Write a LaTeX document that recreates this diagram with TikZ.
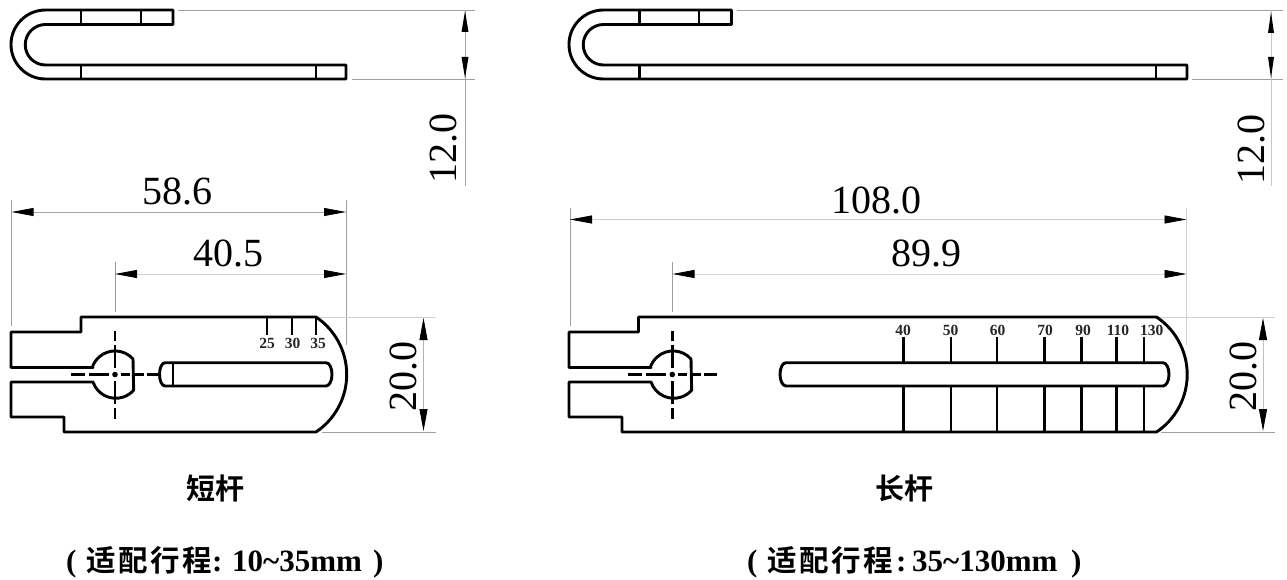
\documentclass[tikz,border=0pt]{standalone}
\usepackage{fontspec}
\setmainfont{Liberation Serif}
\newfontfamily\cjk{Noto Sans CJK SC}[BoldFont={* Bold}]
\usetikzlibrary{arrows.meta}
\tikzset{
  part/.style={draw=black,line width=2.9pt,line join=round,line cap=round},
  thin part/.style={draw=black,line width=2.4pt},
  tick/.style={draw=black,line width=2.4pt},
  center/.style={draw=black,line width=2.6pt},
  ext/.style={draw=black!38,line width=0.8pt},
  extlight/.style={draw=black!18,line width=0.7pt},
  dimln/.style={draw=black!35,line width=0.8pt},
  dimv/.style={dimln,{Triangle[length=22pt,width=8pt,black]}-{Triangle[length=22pt,width=8pt,black]}},
  dimtxt/.style={font=\fontsize{40}{40}\selectfont,inner sep=0pt},
  scale label/.style={font=\fontsize{15.5}{15.5}\selectfont\bfseries,inner sep=0pt,text=black!85},
  cap title/.style={font=\fontsize{29}{29}\selectfont\cjk\bfseries,inner sep=0pt},
  cap line/.style={font=\fontsize{31}{31}\selectfont\bfseries,inner sep=0pt,anchor=base west},
  cap cjk/.style={font=\fontsize{29.5}{29.5}\selectfont\cjk\bfseries,inner sep=0pt,anchor=base west},
}
\newcommand{\sideview}[6]{%
  \draw[part] (#2,24.5) -- (#2,10) -- (#1,10) arc[start angle=270,end angle=90,radius=34.5] -- (#6,79) -- (#6,65) -- (#1,65)
     arc[start angle=90,end angle=270,radius=20.25] -- (#2,24.5);
  \draw[thin part] (#3,10) -- (#3,24.5) (#4,10) -- (#4,24.5) (#3,65) -- (#3,79) (#5,65) -- (#5,79);
}
\newcommand{\planview}[7]{%
  \draw[part] (#4,367.5) -- (#1,367.5) -- (#1,332) -- (#2,332) -- (#2,317) -- (#7,317)
     arc[start angle=-56.2,end angle=56.2,radius=69.2]
     -- (#3,432) -- (#3,417) -- (#1,417) -- (#1,382) -- (#4,382)
     arc[start angle=161.2,end angle=41.6,radius=24] -- (#6,359)
     arc[start angle=318.4,end angle=198.8,radius=24] -- cycle;
}
\newcommand{\crossmark}[3]{%
  \fill (#1,374.5) circle[radius=2.8];
  \draw[center] (#1,331) -- (#1,341) (#1,345) -- (#1,368) (#1,381) -- (#1,404) (#1,408) -- (#1,419);
  \draw[center] (#2,374.5) -- ++(14,0) ++(4,0) -- (#1-6,374.5) (#1+6,374.5) -- ++(9,0) ++(5,0) -- ++(9,0) ++(3,0) -- (#3,374.5);
}
\begin{document}
\begin{tikzpicture}[x=1pt,y=1pt,yscale=-1]
\useasboundingbox (0,0) rectangle (1287,580);
\fill[white] (0,0) rectangle (1287,580);

% ===== short rod =====
\sideview{45.5}{173}{81}{141}{316}{346}
\coordinate (s1) at (178,10); \coordinate (s1e) at (475,10);
\coordinate (s2) at (352,79); \coordinate (s2e) at (475,79);
\draw[ext] (s1) -- (s1e); \draw[ext] (s2) -- (s2e);
\coordinate (sa) at (465,10); \coordinate (se) at (465,186);
\draw[dimln] (sa) -- (se);
\fill (465,11) -- (468.5,32) -- (461.5,32) -- cycle;
\fill (465,78) -- (468.5,57) -- (461.5,57) -- cycle;
\node[dimtxt,rotate=90] (s12) at (443,148.5) {12.0};

\coordinate (sl) at (11.5,212); \coordinate (sr) at (346,212);
\draw[ext] (11.5,200) -- (11.5,326); \draw[ext] (346,200) -- (346,345);
\draw[dimv] (sl) -- (sr);
\node[dimtxt] (s586) at (177,191) {58.6};
\coordinate (sl2) at (115,274); \coordinate (sr2) at (346,274);
\draw[extlight,draw=black!40] (115,262) -- (115,312);
\draw[dimv,draw=black!18] (sl2) -- (sr2);
\node[dimtxt] (s405) at (228,253) {40.5};

\planview{11}{81}{64}{93}{115}{133}{316}
\crossmark{115}{71}{159}
\draw[part] (165,362.7) -- (326,362.7) arc[start angle=-90,end angle=90,x radius=6,y radius=11.65] -- (165,386)
   arc[start angle=90,end angle=270,x radius=5.5,y radius=11.65];
\draw[thin part] (173,363) -- (173,386);
\foreach \x in {267,291.7,316}{
  \draw[tick] (\x,317) -- (\x,335);
}
\node[scale label] (t25) at (267,343) {25};
\node[scale label] (t30) at (292.5,343) {30};
\node[scale label] (t35) at (318,343) {35};
\draw[extlight] (320,317) -- (436,317); \draw[ext] (322,432) -- (436,432);
\coordinate (sh1) at (423.5,318); \coordinate (sh2) at (423.5,431);
\draw[dimv,draw=black!30] (sh1) -- (sh2);
\node[dimtxt,rotate=90] (s20) at (403,376.5) {20.0};

\node[cap title] (stitle) at (215,488) {短杆};

% ===== long rod =====
\sideview{603.5}{731.5}{639.5}{699}{1156}{1187}
\draw[ext] (737,10) -- (1283,10); \draw[ext] (1192,79) -- (1283,79);
\draw[dimln,draw=black!22] (1271,10) -- (1271,186);
\fill (1271,12) -- (1274,33) -- (1268,33) -- cycle;
\fill (1271,78) -- (1274,57) -- (1268,57) -- cycle;
\node[dimtxt,rotate=90] (l12) at (1251,150) {12.0};

\coordinate (ll) at (570,219.5); \coordinate (lr) at (1186.5,219.5);
\draw[ext] (570,208) -- (570,326); \draw[extlight] (1186.5,208) -- (1186.5,345);
\draw[dimv,draw=black!20] (ll) -- (lr);
\node[dimtxt] (l108) at (876.5,200) {108.0};
\coordinate (ll2) at (672.5,274); \coordinate (lr2) at (1186.5,274);
\draw[ext] (672.5,262) -- (672.5,312);
\draw[dimv,draw=black!15] (ll2) -- (lr2);
\node[dimtxt] (l899) at (926,253) {89.9};

\planview{569}{638.5}{622}{651}{672.3}{691}{1156.5}
\crossmark{672.3}{628}{717}
\foreach \x in {903.3,950.7,997,1044.3,1081.3,1116.3,1144}{
  \draw[tick] (\x,336.7) -- (\x,362.7) (\x,386) -- (\x,432);
}
\draw[part] (786,362.7) -- (1163,362.7) arc[start angle=-90,end angle=90,x radius=6,y radius=11.65] -- (786,386)
   arc[start angle=90,end angle=270,x radius=6,y radius=11.65];
\node[scale label] (u40) at (903,330) {40};
\node[scale label] (u50) at (950.7,330) {50};
\node[scale label] (u60) at (997.7,330) {60};
\node[scale label] (u70) at (1045,330) {70};
\node[scale label] (u90) at (1083,330) {90};
\node[scale label] (u110) at (1118,330) {110};
\node[scale label] (u130) at (1151.7,330) {130};
\draw[extlight] (1160,317) -- (1275,317); \draw[ext] (1161,432) -- (1275,432);
\coordinate (lh1) at (1263,318); \coordinate (lh2) at (1263,431);
\draw[dimv,draw=black!25] (lh1) -- (lh2);
\node[dimtxt,rotate=90] (l20) at (1243,376.5) {20.0};

\node[cap title] (ltitle) at (904,488) {长杆};

\node[cap line] (sp1) at (66,571) {(};
\node[cap cjk] (sp2) at (86,571) {适\kern2.5pt 配\kern2.5pt 行\kern2.5pt 程};
\node[cap line] (sp3) at (212,571) {:};
\node[cap line] (sp3b) at (232,571) {10\textasciitilde 35mm};
\node[cap line] (sp4) at (373,571) {)};

\node[cap line] (lp1) at (747,571) {(};
\node[cap cjk] (lp2) at (767,571) {适\kern2.5pt 配\kern2.5pt 行\kern2.5pt 程};
\node[cap line] (lp3) at (896,571) {:};
\node[cap line] (lp3b) at (912,571) {35\textasciitilde 130mm};
\node[cap line] (lp4) at (1071,571) {)};
\end{tikzpicture}
\end{document}
